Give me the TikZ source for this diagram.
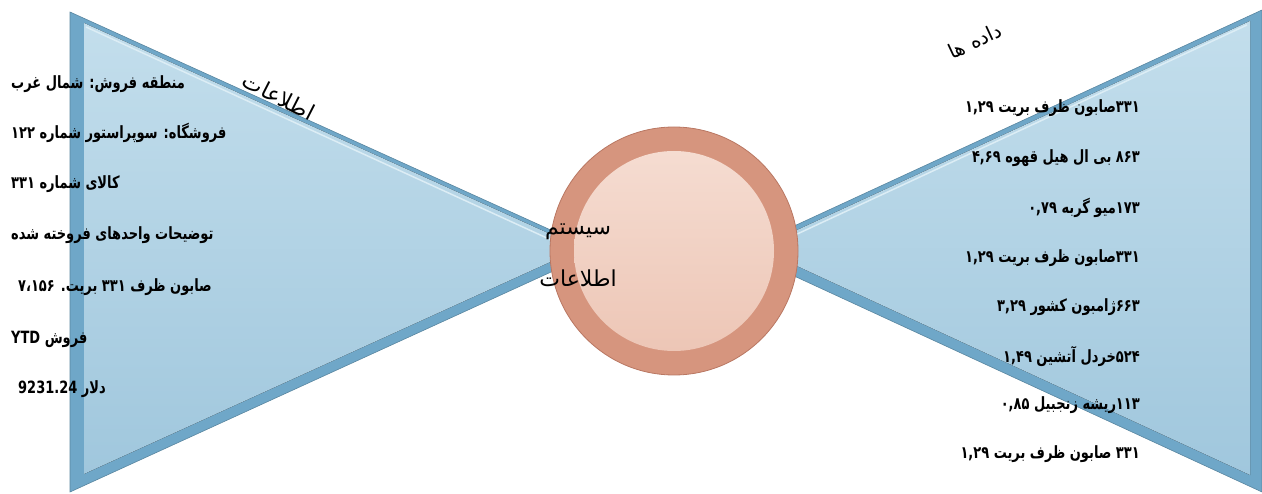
\documentclass[tikz,border=0pt]{standalone}
\usepackage{fontspec}
\usetikzlibrary{positioning}
\TeXXeTstate=1
\newfontfamily\farsi[Script=Arabic]{DejaVu Sans}
\newcommand\fatext[1]{\scalebox{1}[1.3]{\beginR #1\endR}}
\definecolor{wingedge}{HTML}{6FA7C8}
\definecolor{wingtop}{HTML}{C3DEEC}
\definecolor{wingbot}{HTML}{A0C7DD}
\definecolor{wingshine}{HTML}{DCEDF5}
\definecolor{hubrim}{HTML}{D6957E}
\definecolor{hubline}{HTML}{B97762}
\definecolor{hubtop}{HTML}{F5DCD1}
\definecolor{hubbot}{HTML}{EDC6B6}

\begin{document}
\begin{tikzpicture}[x=1pt,y=-1pt,
      wing/.style={
        % The shape:
        fill=wingedge, draw=wingedge!80!black, line width=0.6pt},
      winginner/.style={top color=wingtop, bottom color=wingbot},
      item/.style={
        % The text:
        inner sep=0pt, font=\farsi\bfseries\fontsize{13}{15}\selectfont},
      caption/.style={inner sep=0pt, font=\farsi\fontsize{22}{26}\selectfont}]
    \useasboundingbox (0,0) rectangle (1262,494);

    % left wing
    \coordinate(lt) at (70,12);
    \coordinate(lb) at (70,492);
    \coordinate(la) at (597,251);
    \fill[wing] (lt) -- (lb) -- (la) -- cycle;
    \fill[winginner] (84,23) -- (84,474) -- (581,248) -- cycle;
    \draw[wingshine, line width=1.5pt] (86,27) -- (560,244);

    % right wing
    \coordinate(rt) at (1262,10);
    \coordinate(rb) at (1262,492);
    \coordinate(ra) at (740,251);
    \fill[wing] (rt) -- (rb) -- (ra) -- cycle;
    \fill[winginner] (1250,21) -- (1250,475) -- (758,248) -- cycle;
    \draw[wingshine, line width=1.5pt] (1247,25) -- (780,242);

    % the hub
    \node(hub)[circle, minimum size=248pt, fill=hubrim, draw=hubline, line width=0.8pt] at (674,251) {};
    \node(hubin)[circle, minimum size=200pt, top color=hubtop, bottom color=hubbot] at (hub) {};

    % left list
    \node(l1)[item, anchor=west] at (11,84) {\fatext{منطقه فروش: شمال غرب}};
    \node(l2)[item, anchor=west] at (11,133) {\fatext{فروشگاه: سوپراستور شماره ۱۲۲}};
    \node(l3)[item, anchor=west] at (11,184) {\fatext{کالای شماره ۳۳۱}};
    \node(l4)[item, anchor=west] at (11,235) {\fatext{توضیحات واحدهای فروخته شده}};
    \node(l5)[item, anchor=west] at (18,287) {\fatext{صابون ظرف ۳۳۱ بریت. ۷،۱۵۶}};
    \node(l6)[item, anchor=west] at (11,339) {\fatext{فروش \beginL YTD\endL{}}};
    \node(l7)[item, anchor=west] at (18,389) {\fatext{دلار \beginL 9231.24\endL{}}};

    % right list
    \node(r1)[item, anchor=east] at (1140,108) {\fatext{۳۳۱صابون ظرف بریت ۱,۲۹}};
    \node(r2)[item, anchor=east] at (1140,158) {\fatext{۸۶۳ بی ال هیل قهوه ۴,۶۹}};
    \node(r3)[item, anchor=east] at (1140,208) {\fatext{۱۷۳میو گربه ۰,۷۹}};
    \node(r4)[item, anchor=east] at (1140,258) {\fatext{۳۳۱صابون ظرف بریت ۱,۲۹}};
    \node(r5)[item, anchor=east] at (1140,307) {\fatext{۶۶۳ژامبون کشور ۳,۲۹}};
    \node(r6)[item, anchor=east] at (1140,356) {\fatext{۵۲۴خردل آتشین ۱,۴۹}};
    \node(r7)[item, anchor=east] at (1140,405) {\fatext{۱۱۳ریشه زنجبیل ۰,۸۵}};
    \node(r8)[item, anchor=east] at (1140,454) {\fatext{۳۳۱ صابون ظرف بریت ۱,۲۹}};

    % captions
    \node(info)[caption, rotate=-27] at (279,96) {\beginR اطلاعات\endR};
    \node(data)[caption, rotate=25, font=\farsi\fontsize{20}{24}\selectfont] at (975,41) {\beginR داده ها\endR};
    \node(sys)[caption] at (578,232) {\beginR سیستم\endR};
    \node(sysinfo)[caption] at (578,278) {\beginR اطلاعات\endR};

  \end{tikzpicture}
\end{document}
